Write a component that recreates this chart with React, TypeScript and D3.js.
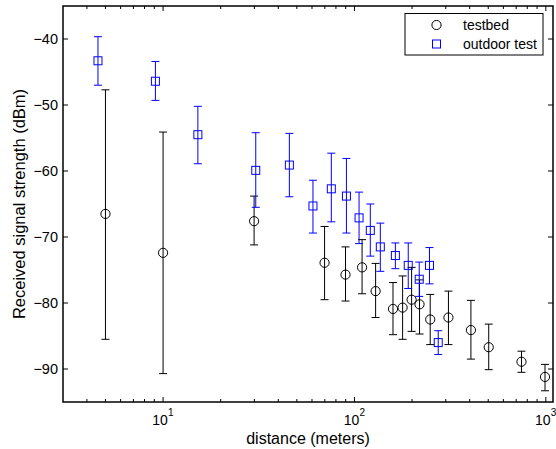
import * as d3 from "d3";

// testbed (black circles)
const testbedDist = [5.0, 10, 29.9, 69.8, 89.8, 109.6, 129, 159, 178.5, 198.9, 218.8, 248.8, 309.8, 406, 503, 746, 990];
const testbedMean = [-66.5, -72.4, -67.6, -73.9, -75.7, -74.6, -78.2, -80.9, -80.7, -79.5, -80.2, -82.5, -82.2, -84.1, -86.7, -88.9, -91.2];
const testbedHigh = [-47.7, -54.1, -63.8, -68.4, -71.5, -70.4, -74.0, -76.9, -75.9, -74.6, -76.5, -78.7, -78.2, -79.6, -83.2, -87.3, -89.3];
const testbedLow = [-85.5, -90.7, -71.2, -79.5, -79.7, -78.6, -82.2, -84.8, -85.5, -84.3, -84.7, -86.3, -86.3, -88.5, -90.1, -90.5, -93.3];

// outdoor test (blue squares)
const outdoorDist = [4.57, 9.12, 15.2, 30.5, 45.7, 60.7, 75.7, 90.8, 105.7, 121, 136.5, 163.6, 191, 218, 246.6, 274];
const outdoorMean = [-43.3, -46.4, -54.5, -59.9, -59.1, -65.3, -62.7, -63.8, -67.1, -69.0, -71.5, -72.8, -74.3, -76.4, -74.3, -86.0];
const outdoorHigh = [-39.65, -43.4, -50.2, -54.2, -54.3, -61.4, -57.3, -58.1, -63.2, -65.0, -67.9, -70.9, -70.9, -73.8, -71.6, -84.2];
const outdoorLow = [-47.0, -49.3, -58.9, -65.5, -63.9, -69.4, -67.7, -69.4, -71.0, -72.9, -75.2, -74.8, -77.8, -79.0, -77.1, -87.8];

const yTicks = [-90, -80, -70, -60, -50, -40];
const xMajor = [10, 100, 1000];
const xExp = ["1", "2", "3"];

const W = 556;
const H = 449;
const left = 63;
const right = 553;
const top = 6;
const bottom = 402;
const font = "'Liberation Sans', Arial, sans-serif";

export default function App() {
  const x = d3.scaleLog().domain([3, 1090]).range([left, right]);
  const y = d3.scaleLinear().domain([-95, -35]).range([bottom, top]);

  const minor: number[] = [];
  for (let e = 0; e < 4; e++) {
    for (let m = 2; m <= 9; m++) {
      const v = m * Math.pow(10, e);
      if (v > 3 && v < 1090) minor.push(v);
    }
  }

  const errBar = (xv: number, hi: number, lo: number, color: string, key: string) => {
    const px = x(xv);
    const cap = 4;
    return (
      <g key={key} stroke={color} strokeWidth={1} fill="none">
        <line x1={px} x2={px} y1={y(hi)} y2={y(lo)} />
        <line x1={px - cap} x2={px + cap} y1={y(hi)} y2={y(hi)} />
        <line x1={px - cap} x2={px + cap} y1={y(lo)} y2={y(lo)} />
      </g>
    );
  };

  return (
    <svg width={W} height={H} style={{ position: "absolute", left: 0, top: 0 }}>
      <rect x={0} y={0} width={W} height={H} fill="#fff" />
      {/* error bars */}
      {testbedDist.map((d, i) => errBar(d, testbedHigh[i], testbedLow[i], "#000", "tb" + i))}
      {outdoorDist.map((d, i) => errBar(d, outdoorHigh[i], outdoorLow[i], "#0000ff", "od" + i))}
      {/* markers */}
      {testbedDist.map((d, i) => (
        <circle key={"c" + i} cx={x(d)} cy={y(testbedMean[i])} r={4.6} fill="none" stroke="#000" strokeWidth={1} />
      ))}
      {outdoorDist.map((d, i) => (
        <rect key={"s" + i} x={x(d) - 4} y={y(outdoorMean[i]) - 4} width={8} height={8} fill="none" stroke="#0000ff" strokeWidth={1} />
      ))}
      {/* axes box */}
      <rect x={left} y={top} width={right - left} height={bottom - top} fill="none" stroke="#000" strokeWidth={1.5} />
      {/* y ticks */}
      {yTicks.map((t) => (
        <g key={"y" + t}>
          <line x1={left} x2={left + 5} y1={y(t)} y2={y(t)} stroke="#000" />
          <line x1={right - 5} x2={right} y1={y(t)} y2={y(t)} stroke="#000" />
          <text x={left - 5} y={y(t) + 5} textAnchor="end" fontFamily={font} fontSize={14.5}>
            {"\u2212" + Math.abs(t)}
          </text>
        </g>
      ))}
      {/* x ticks */}
      {minor.map((v) => (
        <g key={"m" + v}>
          <line x1={x(v)} x2={x(v)} y1={bottom} y2={bottom - 3} stroke="#000" />
          <line x1={x(v)} x2={x(v)} y1={top} y2={top + 3} stroke="#000" />
        </g>
      ))}
      {xMajor.map((v, i) => (
        <g key={"M" + v}>
          <line x1={x(v)} x2={x(v)} y1={bottom} y2={bottom - 5} stroke="#000" />
          <line x1={x(v)} x2={x(v)} y1={top} y2={top + 5} stroke="#000" />
          <text x={x(v) - 3} y={425} textAnchor="middle" fontFamily={font} fontSize={14}>
            10
          </text>
          <text x={x(v) + 5} y={416} textAnchor="start" fontFamily={font} fontSize={10}>
            {xExp[i]}
          </text>
        </g>
      ))}
      {/* axis labels */}
      <text x={(left + right) / 2} y={444} textAnchor="middle" fontFamily={font} fontSize={16}>
        distance (meters)
      </text>
      <text
        transform={`translate(25,${(top + bottom) / 2}) rotate(-90)`}
        textAnchor="middle"
        fontFamily={font}
        fontSize={16.5}
      >
        Received signal strength (dBm)
      </text>
      {/* legend */}
      <rect x={405} y={13.5} width={138} height={41.5} fill="#fff" stroke="#000" strokeWidth={1} />
      <circle cx={436.5} cy={25} r={4.6} fill="none" stroke="#000" />
      <rect x={432.5} y={40} width={8} height={8} fill="none" stroke="#0000ff" />
      <text x={463} y={30} fontFamily={font} fontSize={14}>
        testbed
      </text>
      <text x={463} y={49} fontFamily={font} fontSize={14}>
        outdoor test
      </text>
    </svg>
  );
}
